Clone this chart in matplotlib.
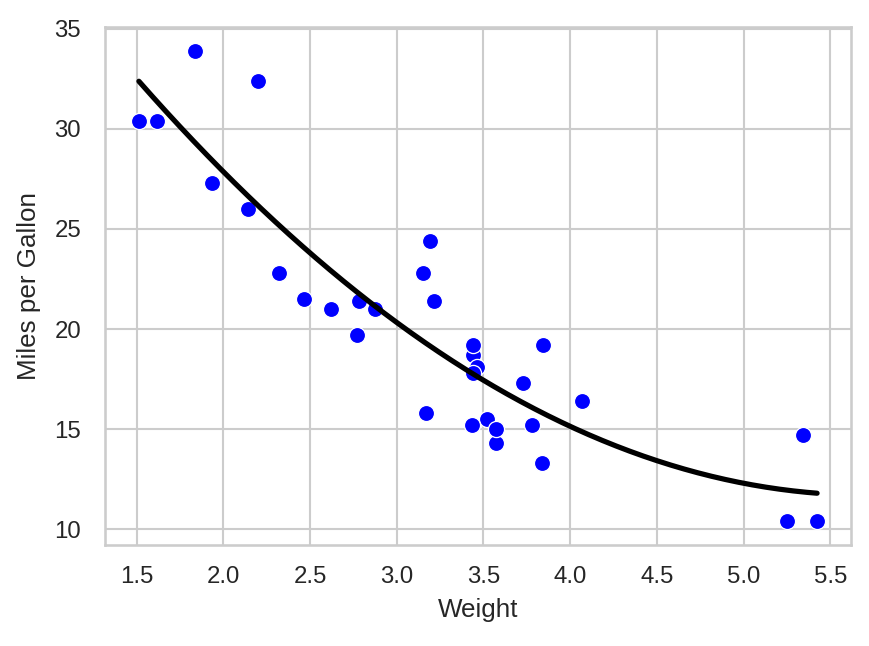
import numpy as np
import matplotlib
matplotlib.use("Agg")
import matplotlib.pyplot as plt
import seaborn as sns

weight = [2.620, 2.875, 2.320, 3.215, 3.440, 3.460, 3.570, 3.190, 3.150, 3.440,
          3.440, 4.070, 3.730, 3.780, 5.250, 5.424, 5.345, 2.200, 1.615, 1.835,
          2.465, 3.520, 3.435, 3.840, 3.845, 1.935, 2.140, 1.513, 3.170, 2.770,
          3.570, 2.780]
mpg = [21.0, 21.0, 22.8, 21.4, 18.7, 18.1, 14.3, 24.4, 22.8, 19.2,
       17.8, 16.4, 17.3, 15.2, 10.4, 10.4, 14.7, 32.4, 30.4, 33.9,
       21.5, 15.5, 15.2, 13.3, 19.2, 27.3, 26.0, 30.4, 15.8, 19.7,
       15.0, 21.4]

sns.set_theme(style="whitegrid")
plt.rcParams['font.family'] = ['Liberation Sans', 'DejaVu Sans']
plt.rcParams['xtick.labelsize'] = 11.5
plt.rcParams['ytick.labelsize'] = 11.5
plt.rcParams['axes.labelsize'] = 12.5

fig = plt.figure(figsize=(869/150, 646/150), dpi=150)
ax = fig.add_axes([105/869, 1-545/646, (851-105)/869, (545-27)/646])

sns.scatterplot(x=weight, y=mpg, color="blue", s=60, ax=ax, zorder=3)
coef = np.polyfit(weight, mpg, 2)
xs = np.linspace(min(weight), max(weight), 200)
ax.plot(xs, np.polyval(coef, xs), color="black", linewidth=2.5, zorder=4)

ax.set_xlabel("Weight", labelpad=5)
ax.set_ylabel("Miles per Gallon", labelpad=6.5)
ax.set_xticks([1.5, 2.0, 2.5, 3.0, 3.5, 4.0, 4.5, 5.0, 5.5])
ax.set_yticks([10, 15, 20, 25, 30, 35])
ax.tick_params(axis='x', length=0, pad=10)
ax.tick_params(axis='y', length=0, pad=11.5)

fig.savefig("out.png", dpi=150)
